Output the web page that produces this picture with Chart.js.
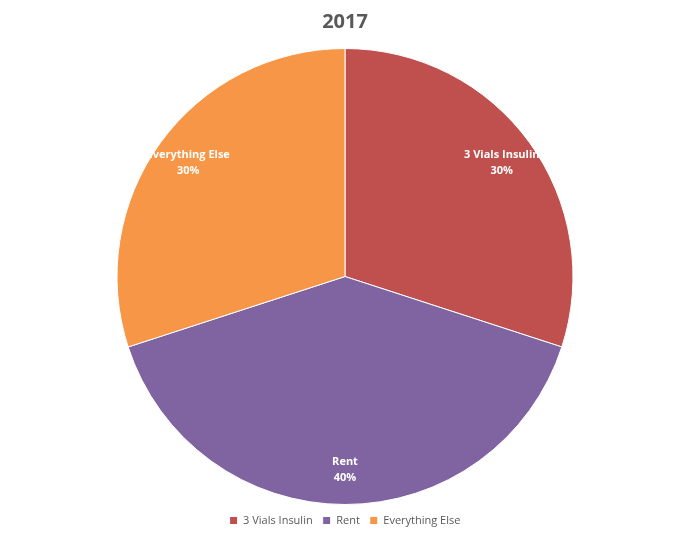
<!DOCTYPE html>
<html>
<head>
<script src="https://cdn.jsdelivr.net/npm/chart.js@4"></script>
<style>
  body { margin: 0; background: #fff; }
  #wrap { width: 690px; height: 540px; }
</style>
</head>
<body>
<div id="wrap"><canvas id="pie"></canvas></div>
<script>
const categories = ['3 Vials Insulin', 'Rent', 'Everything Else'];
const shares = [30, 40, 30];
const colors = ['#C0504D', '#8064A2', '#F79646'];

// white labels inside the slices: name on one line, percent below
const sliceLabels = {
    id: 'sliceLabels',
    afterDatasetsDraw(chart) {
        const ctx = chart.ctx;
        const meta = chart.getDatasetMeta(0);
        ctx.save();
        ctx.fillStyle = '#fff';
        ctx.font = 'bold 11px "Open Sans", Calibri, sans-serif';
        ctx.textAlign = 'center';
        ctx.textBaseline = 'middle';
        meta.data.forEach((arc, i) => {
            const mid = (arc.startAngle + arc.endAngle) / 2;
            const r = arc.outerRadius * 0.85;
            const x = arc.x + Math.cos(mid) * r;
            const y = arc.y + Math.sin(mid) * r;
            ctx.fillText(categories[i], x, y - 8);
            ctx.fillText(shares[i] + '%', x, y + 8);
        });
        ctx.restore();
    }
};

new Chart(document.getElementById('pie'), {
    type: 'pie',
    data: {
        labels: categories,
        datasets: [{
            data: shares,
            backgroundColor: colors,
            borderColor: '#fff',
            borderWidth: 1
        }]
    },
    options: {
        responsive: true,
        maintainAspectRatio: false,
        animation: false,
        layout: { padding: { top: 0, bottom: 4 } },
        plugins: {
            title: {
                display: true,
                text: '2017',
                color: '#595959',
                font: { size: 20, weight: 'bold', family: '"Open Sans", Calibri, sans-serif' },
                padding: { top: 10, bottom: 14 }
            },
            legend: {
                position: 'bottom',
                labels: {
                    boxWidth: 8,
                    boxHeight: 8,
                    color: '#595959',
                    font: { size: 11, family: '"Open Sans", Calibri, sans-serif' },
                    padding: 10
                }
            },
            tooltip: { enabled: false }
        }
    },
    plugins: [sliceLabels]
});
</script>
</body>
</html>
